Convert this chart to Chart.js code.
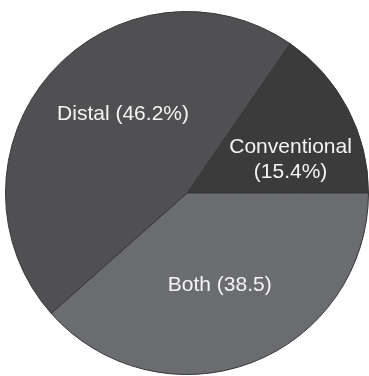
<!DOCTYPE html>
<html>
<head>
<meta charset="utf-8">
<script src="https://cdn.jsdelivr.net/npm/chart.js@4"></script>
<style>
  html, body { margin: 0; padding: 0; background: #fff; }
  #wrap { width: 369px; height: 376px; }
</style>
</head>
<body>
<div id="wrap"><canvas id="pieChart"></canvas></div>
<script>
const categories = ['Conventional', 'Both', 'Distal'];
const shares = [15.4, 38.5, 46.2];
const sliceLabels = [['Conventional', '(15.4%)'], ['Both (38.5)'], ['Distal (46.2%)']];
const sliceColors = ['#3b3b3c', '#6b6c6f', '#505052'];

// where the text sits inside each slice: angle from 12 o'clock (deg), fraction of radius
const labelSpots = [
    { angle: 72, r: 0.6 },
    { angle: 160.5, r: 0.54 },
    { angle: 321, r: 0.56 }
];

const sliceText = {
    id: 'sliceText',
    afterDatasetsDraw(chart) {
        const ctx = chart.ctx;
        const arcs = chart.getDatasetMeta(0).data;
        ctx.save();
        ctx.fillStyle = '#f4f4f4';
        ctx.font = '21px "Liberation Sans", Arial, sans-serif';
        ctx.textAlign = 'center';
        ctx.textBaseline = 'middle';
        arcs.forEach((arc, i) => {
            const a = (labelSpots[i].angle - 90) * Math.PI / 180;
            const rad = arc.outerRadius * labelSpots[i].r;
            const x = arc.x + rad * Math.cos(a);
            const y = arc.y + rad * Math.sin(a);
            const lines = sliceLabels[i];
            const lh = 25;
            lines.forEach((t, j) => {
                ctx.fillText(t, x, y + (j - (lines.length - 1) / 2) * lh);
            });
        });
        ctx.restore();
    }
};

new Chart(document.getElementById('pieChart'), {
    type: 'pie',
    data: {
        labels: categories,
        datasets: [{
            data: shares,
            backgroundColor: sliceColors,
            borderColor: '#363638',
            borderWidth: 1
        }]
    },
    options: {
        responsive: true,
        maintainAspectRatio: false,
        animation: false,
        rotation: 34.6,
        layout: { padding: { left: 5, top: 10, right: 0, bottom: 0 } },
        plugins: {
            legend: { display: false },
            tooltip: { enabled: false }
        }
    },
    plugins: [sliceText]
});
</script>
</body>
</html>
